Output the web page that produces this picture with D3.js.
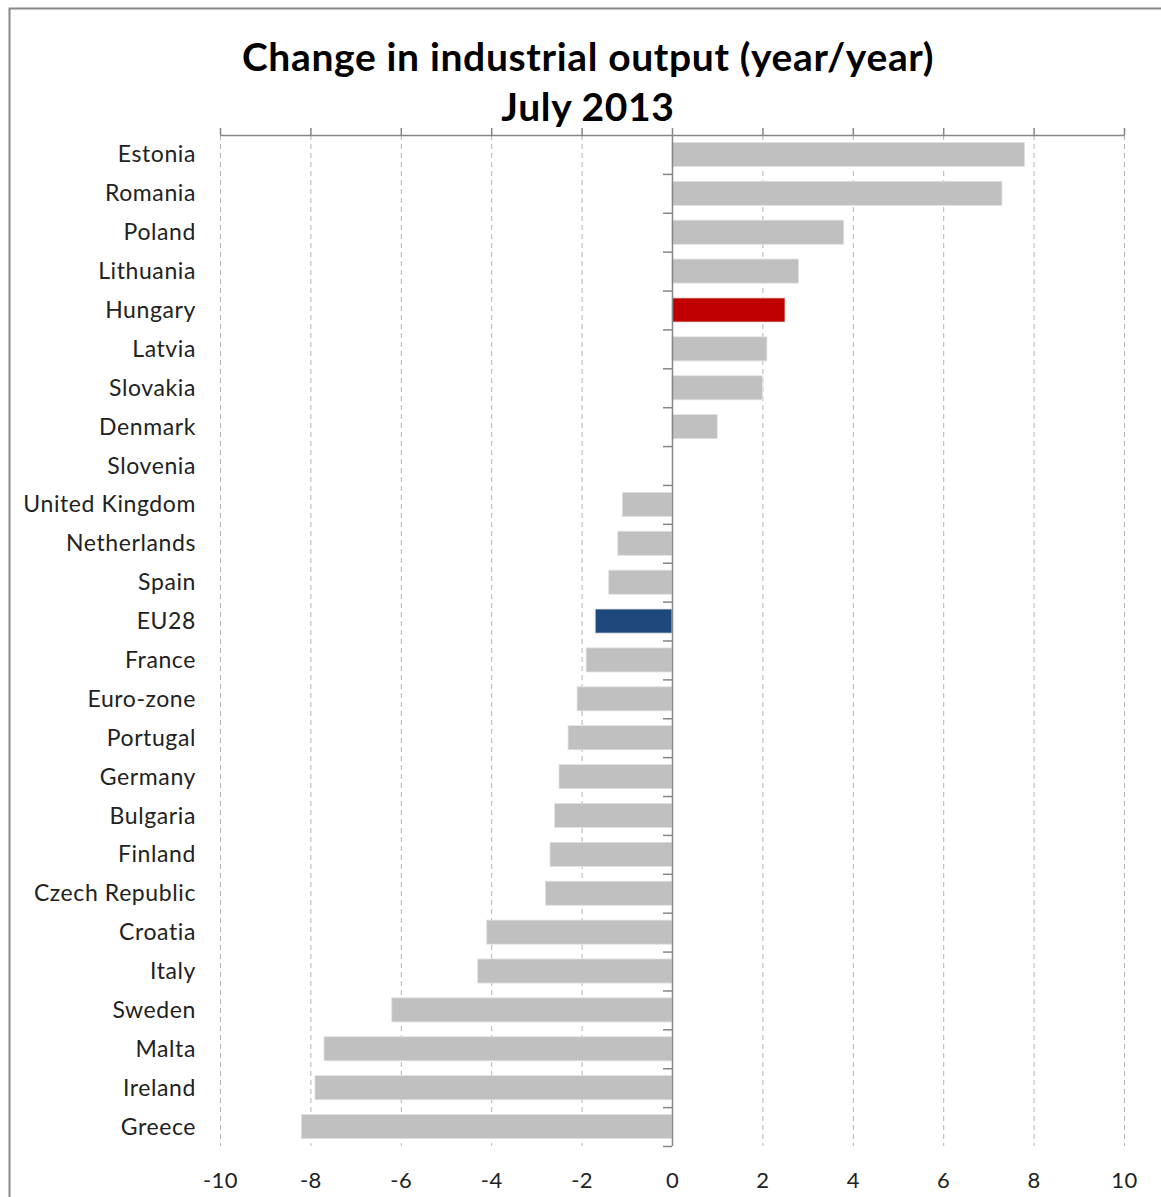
<!DOCTYPE html>
<html>
<head>
<meta charset="utf-8">
<script src="https://cdn.jsdelivr.net/npm/d3@7"></script>
<style>
  body { margin: 0; background: #fff; }
  text { font-family: Lato, "Open Sans", sans-serif; }
</style>
</head>
<body>
<div id="chart"></div>
<script>
// Data
var countries = ["Estonia", "Romania", "Poland", "Lithuania", "Hungary", "Latvia", "Slovakia",
  "Denmark", "Slovenia", "United Kingdom", "Netherlands", "Spain", "EU28", "France", "Euro-zone",
  "Portugal", "Germany", "Bulgaria", "Finland", "Czech Republic", "Croatia", "Italy", "Sweden",
  "Malta", "Ireland", "Greece"];
var changes = [7.8, 7.3, 3.8, 2.8, 2.5, 2.1, 2.0, 1.0, 0, -1.1, -1.2, -1.4, -1.7, -1.9, -2.1,
  -2.3, -2.5, -2.6, -2.7, -2.8, -4.1, -4.3, -6.2, -7.7, -7.9, -8.2];
var xTicks = [-10, -8, -6, -4, -2, 0, 2, 4, 6, 8, 10];
var titleLines = ["Change in industrial output (year/year)", "July 2013"];

var data = countries.map(function (c, i) { return { name: c, value: changes[i] }; });

var W = 1161, H = 1197;
var margin = { top: 135, right: 37, bottom: 51, left: 220 },
    width = W - margin.left - margin.right,
    height = H - margin.top - margin.bottom;

var svg = d3.select("#chart").append("svg")
    .attr("width", W)
    .attr("height", H);

// outer frame
svg.append("rect")
    .attr("x", 9.5).attr("y", 8.5)
    .attr("width", W).attr("height", H)
    .attr("fill", "none")
    .attr("stroke", "#888")
    .attr("stroke-width", 2);

// title
svg.selectAll(".title")
    .data(titleLines)
    .enter()
    .append("text")
    .attr("class", "title")
    .attr("x", 588)
    .attr("y", function (d, i) { return 71 + i * 50; })
    .attr("text-anchor", "middle")
    .style("font-size", "39px")
    .style("font-weight", "bold")
    .style("letter-spacing", "0.65px")
    .attr("fill", "#000")
    .text(function (d) { return d; });

var g = svg.append("g")
    .attr("transform", "translate(" + margin.left + "," + margin.top + ")");

var x = d3.scaleLinear().domain([-10, 10]).range([0, width]);
var y = d3.scaleBand().domain(countries).range([0, height]).paddingInner(0.38).paddingOuter(0.19);

// dashed gridlines
g.selectAll(".grid")
    .data(xTicks.filter(function (d) { return d !== 0; }))
    .enter()
    .append("line")
    .attr("x1", function (d) { return x(d) + 0.5; })
    .attr("x2", function (d) { return x(d) + 0.5; })
    .attr("y1", 0).attr("y2", height)
    .attr("stroke", "#b4b4b4")
    .attr("stroke-width", 1)
    .attr("stroke-dasharray", "5,4");

// top axis (no labels)
var topAxis = d3.axisTop(x).tickValues(xTicks).tickSize(7).tickFormat("");
g.append("g").attr("class", "top-axis").call(topAxis);
g.select(".top-axis .domain").attr("d", "M0.5,0.5H" + (width + 0.5));

// bottom tick labels only
var bottomAxis = d3.axisBottom(x).tickValues(xTicks).tickSize(0).tickPadding(26);
g.append("g").attr("class", "bottom-axis")
    .attr("transform", "translate(0," + height + ")")
    .call(bottomAxis);
g.select(".bottom-axis .domain").remove();
g.selectAll(".bottom-axis text")
    .style("font-size", "22px")
    .style("letter-spacing", "0.5px")
    .attr("fill", "#222")
    .text(function (d) { return d; });

g.selectAll(".top-axis line, .top-axis path")
    .attr("stroke", "#868686")
    .attr("stroke-width", 1.5);

// bars
g.selectAll(".bar")
    .data(data)
    .enter()
    .append("rect")
    .attr("class", "bar")
    .attr("x", function (d) { return x(Math.min(0, d.value)); })
    .attr("y", function (d) { return y(d.name); })
    .attr("width", function (d) { return Math.abs(x(d.value) - x(0)); })
    .attr("height", y.bandwidth())
    .attr("fill", function (d) {
        if (d.name === "Hungary") return "#c00000";
        if (d.name === "EU28") return "#1f497d";
        return "#c0c0c0";
    })
    .attr("stroke", "#e2e2e2")
    .attr("stroke-width", 0.8);

// vertical category axis at zero with ticks at band boundaries
var step = y.step();
var boundaries = d3.range(countries.length + 1).map(function (i) { return i * step; });
g.append("line")
    .attr("x1", x(0) + 0.5).attr("x2", x(0) + 0.5)
    .attr("y1", 0).attr("y2", height)
    .attr("stroke", "#868686")
    .attr("stroke-width", 1.5);
g.selectAll(".ytick")
    .data(boundaries.slice(1))
    .enter()
    .append("line")
    .attr("x1", x(0) - 9).attr("x2", x(0))
    .attr("y1", function (d) { return d + 0.5; })
    .attr("y2", function (d) { return d + 0.5; })
    .attr("stroke", "#868686")
    .attr("stroke-width", 1.5);

// category labels on the left
g.selectAll(".cat")
    .data(countries)
    .enter()
    .append("text")
    .attr("class", "cat")
    .attr("x", -24)
    .attr("y", function (d) { return y(d) + y.bandwidth() / 2; })
    .attr("dy", "0.35em")
    .attr("text-anchor", "end")
    .style("font-size", "23px")
    .style("letter-spacing", "0.6px")
    .attr("fill", "#222")
    .text(function (d) { return d; });
</script>
</body>
</html>
